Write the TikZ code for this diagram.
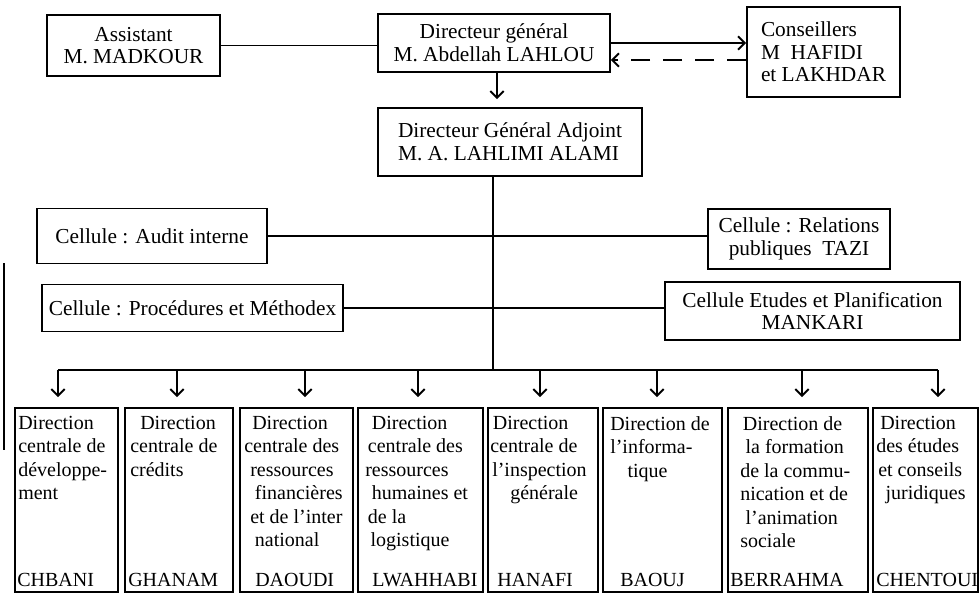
\documentclass[tikz,border=0pt]{standalone}
\usepackage{fontspec}
\setmainfont{Liberation Serif}
\usetikzlibrary{arrows.meta}
\begin{document}
\begin{tikzpicture}[x=0.75pt,y=-0.75pt,
  box/.style={draw, line width=1.4pt, inner sep=0pt, align=center, font=\fontsize{16}{17}\selectfont},
  lbox/.style={box, align=left},
  dbox/.style={draw, line width=1.4pt, inner sep=0pt, minimum height=138pt},
  dtext/.style={inner sep=0pt, anchor=north west, align=left, font=\fontsize{15}{17.6}\selectfont},
  ntext/.style={inner sep=0pt, anchor=base west, font=\fontsize{15}{17.6}\selectfont},
  conn/.style={line width=1.4pt},
  arr/.style={line width=1.4pt, -{Straight Barb[length=5pt,width=10pt,line width=1.4pt]}},
  margin/.style={line width=0.8pt}
]
\useasboundingbox (0,0) rectangle (980,594);

% top level
\node[box, minimum width=129.75pt, minimum height=45.75pt] (asst) at (133.5,45.5) {Assistant\\M. MADKOUR};
\node[box, minimum width=174pt, minimum height=43.5pt] (dg) at (494,43) {Directeur général\\M. Abdellah LAHLOU};
\node[lbox, minimum width=114.75pt, minimum height=67.5pt] (cons) at (823.5,52) {Conseillers\\M\hspace{0.5em}HAFIDI\\et LAKHDAR};
\node[lbox, minimum width=198pt, minimum height=51pt] (dga) at (510,142) {Directeur Général Adjoint\\M. A. LAHLIMI ALAMI};

% cells
\node[box, minimum width=172.5pt, minimum height=41.25pt] (audit) at (152,236) {Cellule : Audit interne};
\node[box, minimum width=225.75pt, minimum height=35.25pt] (proc) at (192.5,308) {Cellule : Procédures et Méthodex};
\node[box, minimum width=136.5pt, minimum height=45pt] (rel) at (799,239) {Cellule : Relations\\publiques\hspace{0.5em}TAZI};
\node[box, minimum width=221.25pt, minimum height=43.5pt] (etu) at (812.5,311) {Cellule Etudes et Planification\\MANKARI};

% directions
\node[dbox, minimum width=77.25pt] (b1) at (66.5,500) {};
\node[dbox, minimum width=81pt] (b2) at (179,500) {};
\node[dbox, minimum width=84.75pt] (b3) at (296.5,500) {};
\node[dbox, minimum width=93.75pt] (b4) at (420.5,500) {};
\node[dbox, minimum width=82.5pt] (b5) at (543,500) {};
\node[dbox, minimum width=89.25pt] (b6) at (662.5,500) {};
\node[dbox, minimum width=105pt] (b7) at (798,500) {};
\node[dbox, minimum width=78.75pt] (b8) at (925.5,500) {};

\node[dtext] (t1) at (18,416) {Direction\\centrale de\\développe-\\ment};
\node[dtext] (t2) at (130,416) {\hspace*{7.5pt}Direction\\centrale de\\crédits};
\node[dtext] (t3) at (244,416) {\hspace*{6pt}Direction\\centrale des\\\hspace*{4.5pt}ressources\\\hspace*{8pt}financières\\\hspace*{4.5pt}et de l'inter\\\hspace*{8pt}national};
\node[dtext] (t4) at (365,416) {\hspace*{5pt}Direction\\\hspace*{2pt}centrale des\\ressources\\\hspace*{5pt}humaines et\\\hspace*{2pt}de la\\\hspace*{4pt}logistique};
\node[dtext] (t5) at (490,416) {\hspace*{2pt}Direction\\centrale de\\\hspace*{1.5pt}l'inspection\\\hspace*{15pt}générale};
\node[dtext] (t6) at (610,416) {Direction de\\l'informa-\\\hspace*{13pt}tique};
\node[dtext] (t7) at (740,416) {\hspace*{2pt}Direction de\\\hspace*{4pt}la formation\\de la commu-\\nication et de\\\hspace*{4pt}l'animation\\sociale};
\node[dtext] (t8) at (876,416) {\hspace*{3pt}Direction\\des études\\\hspace*{1.5pt}et conseils\\\hspace*{7pt}juridiques};

\node[ntext] (n1) at (17,586) {CHBANI};
\node[ntext] (n2) at (128,586) {GHANAM};
\node[ntext] (n3) at (255,586) {DAOUDI};
\node[ntext] (n4) at (372,586) {LWAHHABI};
\node[ntext] (n5) at (497,586) {HANAFI};
\node[ntext] (n6) at (620,586) {BAOUJ};
\node[ntext] (n7) at (730,586) {BERRAHMA};
\node[ntext] (n8) at (876,586) {CHENTOUI};

% connectors top
\draw[conn] (asst.east) -- (asst.east -| dg.west);
\draw[arr] (dg.east) -- (dg.east -| cons.west);
\draw[arr, dash pattern=on 14pt off 10pt] ([yshift=-12.75pt]dg.east -| cons.west) -- ([yshift=-12.75pt]dg.east);
\draw[arr, shorten >=6pt] ([xshift=2.25pt]dg.south) -- ([xshift=2.25pt]dg.south |- dga.north);

% trunk and cells
\coordinate (bus) at (493,370);
\draw[conn] (bus |- dga.south) -- (bus);
\draw[conn] (audit.east) -- (audit.east -| rel.west);
\draw[conn] (proc.east) -- (proc.east -| etu.west);

% bus and arrows
\coordinate (a1) at ([xshift=-6.4pt]b1.north |- bus);
\coordinate (a2) at ([xshift=-1.5pt]b2.north |- bus);
\coordinate (a3) at ([xshift=6.4pt]b3.north |- bus);
\coordinate (a4) at ([xshift=-1.9pt]b4.north |- bus);
\coordinate (a5) at ([xshift=-2.25pt]b5.north |- bus);
\coordinate (a6) at ([xshift=-4.1pt]b6.north |- bus);
\coordinate (a7) at ([xshift=3pt]b7.north |- bus);
\coordinate (a8) at ([xshift=9.4pt]b8.north |- bus);
\draw[conn] (a1) -- (a8);
\foreach \i in {1,...,8} {
  \draw[arr, shorten >=7.5pt] (a\i) -- (a\i |- b\i.north);
}

% scanned page edge
\coordinate (m1) at (4,263);
\coordinate (m2) at (4,450);
\draw[margin] (m1) -- (m2);
\end{tikzpicture}
\end{document}
